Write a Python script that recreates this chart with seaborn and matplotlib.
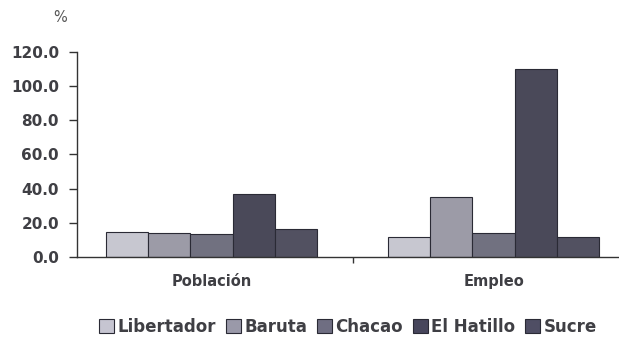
import numpy as np
import pandas as pd
import matplotlib
matplotlib.use("Agg")
import matplotlib.pyplot as plt
import seaborn as sns

# datos
categorias = ["Población", "Empleo"]
municipios = ["Libertador", "Baruta", "Chacao", "El Hatillo", "Sucre"]
poblacion = [14.5, 13.9, 13.5, 36.8, 16.2]
empleo = [11.7, 34.8, 14.0, 109.9, 11.7]
colores = ["#c6c5d1", "#9a99a9", "#6f6e82", "#47465c", "#4f4e64"]

df = pd.DataFrame({
    "categoria": np.repeat(categorias, len(municipios)),
    "municipio": municipios * 2,
    "valor": poblacion + empleo,
})

sns.set_style("white")
plt.rcParams['font.family'] = ['DejaVu Sans']

fig = plt.figure(figsize=(6.19, 3.39), dpi=100)
ax = fig.add_axes([77 / 619, 1 - 257 / 339, 1 - 77 / 619, (257 - 51.7) / 339])

sns.barplot(data=df, x="categoria", y="valor", hue="municipio", order=categorias,
            hue_order=municipios, palette=colores, width=0.75, gap=0,
            edgecolor="#2a2a35", linewidth=0.8, ax=ax, legend=False)

ax.set_xlim(-0.477, 1.445)
ax.set_ylim(0, 120)
ax.set_yticks(np.arange(0, 121, 20))
ax.set_yticklabels([f"{v:.1f}" for v in np.arange(0, 121, 20)])
ax.set_xlabel("")
ax.set_ylabel("")

for s in ["top", "right"]:
    ax.spines[s].set_visible(False)
for s in ["left", "bottom"]:
    ax.spines[s].set_color("#333333")
    ax.spines[s].set_linewidth(1.0)

ax.tick_params(axis="y", direction="out", length=6, width=1, color="#333333",
               labelsize=11, labelcolor="#3f3f44", pad=7, left=True)
ax.tick_params(axis="x", length=0, labelsize=10.5, labelcolor="#3f3f44", pad=12)
ax.set_xticks([0.5], minor=True)
ax.tick_params(axis="x", which="minor", direction="out", length=4, width=1,
               color="#333333", bottom=True)
for lab in ax.get_yticklabels() + ax.get_xticklabels():
    lab.set_fontweight("bold")

fig.text(60 / 619, 1 - 17 / 339, "%", fontsize=10.5, color="#555555",
         ha="center", va="center")

handles = [plt.Rectangle((0, 0), 1, 1, facecolor=c, edgecolor="#2a2a35", linewidth=0.8)
           for c in colores]
leg = fig.legend(handles, municipios, loc="center", bbox_to_anchor=(348 / 619, 1 - 327 / 339),
                 ncol=5, frameon=False, handlelength=0.9, handleheight=0.9,
                 handletextpad=0.2, columnspacing=0.6, prop={"size": 12, "weight": "bold"})
for t in leg.get_texts():
    t.set_color("#3f3f44")

fig.savefig("out.png", dpi=100)
